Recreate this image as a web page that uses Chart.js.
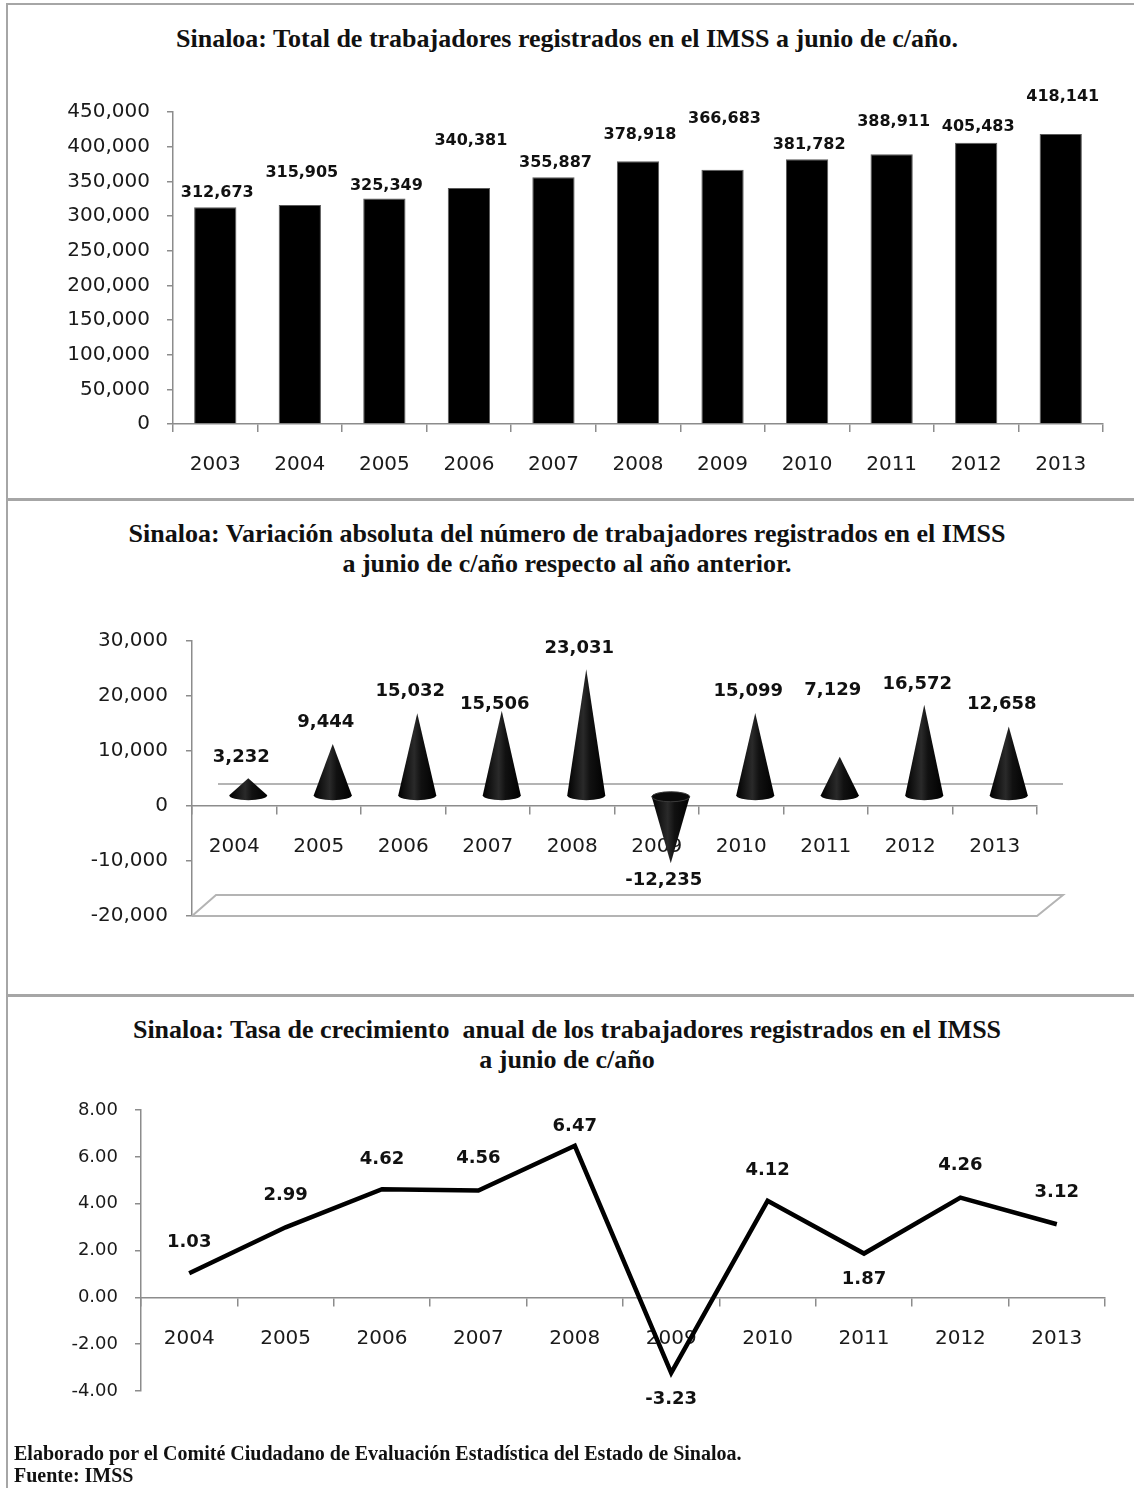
<!DOCTYPE html>
<html>
<head>
<meta charset="utf-8">
<script src="https://cdn.jsdelivr.net/npm/chart.js@4.4.1/dist/chart.umd.min.js"></script>
<style>
  html, body { margin: 0; padding: 0; background: #fff; }
  #page { position: relative; width: 1134px; height: 1488px; overflow: hidden; background: #fff; }
  canvas { position: absolute; left: 0; }
  .frame { position: absolute; background: #a6a6a6; z-index: 5; }
  .title {
    position: absolute; left: 0; width: 1134px; text-align: center;
    font-family: "Liberation Serif", "DejaVu Serif", serif; font-weight: bold;
    font-size: 26px; line-height: 30px; color: #111; white-space: pre;
  }
  .foot {
    position: absolute; left: 14px; font-family: "Liberation Serif", serif;
    font-weight: bold; font-size: 20px; line-height: 22px; color: #111;
  }
</style>
</head>
<body>
<div id="page">
  <div class="frame" style="left:7px;top:3px;width:1127px;height:2px"></div>
  <div class="frame" style="left:6px;top:3px;width:2px;height:1485px"></div>
  <div class="frame" style="left:7px;top:498px;width:1127px;height:3px"></div>
  <div class="frame" style="left:7px;top:994px;width:1127px;height:3px"></div>

  <div class="title" style="top:24px">Sinaloa: Total de trabajadores registrados en el IMSS a junio de c/año.</div>
  <div class="title" style="top:519px">Sinaloa: Variación absoluta del número de trabajadores registrados en el IMSS
a junio de c/año respecto al año anterior.</div>
  <div class="title" style="top:1015px">Sinaloa: Tasa de crecimiento  anual de los trabajadores registrados en el IMSS
a junio de c/año</div>

  <canvas id="total-chart" width="1134" height="500" style="top:0"></canvas>
  <canvas id="variacion-chart" width="1134" height="496" style="top:500px"></canvas>
  <canvas id="tasa-chart" width="1134" height="492" style="top:996px"></canvas>

  <div class="foot" style="top:1442px">Elaborado por el Comité Ciudadano de Evaluación Estadística del Estado de Sinaloa.<br>Fuente: IMSS</div>
</div>

<script>
// Data
var years_total = ["2003", "2004", "2005", "2006", "2007", "2008", "2009", "2010", "2011", "2012", "2013"];
var total_trabajadores = [312673, 315905, 325349, 340381, 355887, 378918, 366683, 381782, 388911, 405483, 418141];

var years_var = ["2004", "2005", "2006", "2007", "2008", "2009", "2010", "2011", "2012", "2013"];
var variacion_absoluta = [3232, 9444, 15032, 15506, 23031, -12235, 15099, 7129, 16572, 12658];
var tasa_crecimiento = [1.03, 2.99, 4.62, 4.56, 6.47, -3.23, 4.12, 1.87, 4.26, 3.12];

// label lifts (px above the mark, negative = below), as in the Excel original
var lift_total = [14, 32, 13, 47, 14, 26, 51, 14, 33, 16, 37];
var lift_var = [21, 22, 22, 6, 21, -17, 22, 66, 21, 22];
var lift_tasa = [31, 32, 30, 32, 19, -26, 31, -26, 32, 32];

Chart.defaults.font.family = "'DejaVu Sans', sans-serif";
Chart.defaults.color = "#1a1a1a";
Chart.defaults.animation = false;

var AXIS = "#8c8c8c";
var CONE_DX = 14, CONE_DY = -10, CONE_R = 19;

function fmtThousands(v) {
  return Number(v).toLocaleString("en-US");
}

// draws the value labels above / below each mark
var valueLabels = {
  id: "valueLabels",
  afterDatasetsDraw: function (chart, args, opts) {
    var ctx = chart.ctx;
    var meta = chart.getDatasetMeta(0);
    var data = chart.data.datasets[0].data;
    ctx.save();
    ctx.font = "bold " + opts.size + "px 'DejaVu Sans', sans-serif";
    ctx.fillStyle = "#111";
    ctx.textAlign = "center";
    ctx.textBaseline = "middle";
    for (var i = 0; i < meta.data.length; i++) {
      var el = meta.data[i];
      var y = el.y + (opts.dy || 0) - opts.lift[i];
      ctx.fillText(opts.format(data[i]), el.x + (opts.dx || 0), y);
    }
    ctx.restore();
  },
};

// 3D floor / back wall + cones for the variation chart
var cones = {
  id: "cones",
  beforeDatasetsDraw: function (chart) {
    var ctx = chart.ctx;
    var ys = chart.scales.y;
    var a = chart.chartArea;
    var yFloor = ys.getPixelForValue(ys.min);
    var yZero = ys.getPixelForValue(0);
    ctx.save();
    ctx.strokeStyle = "#b4b4b4";
    ctx.lineWidth = 2;
    ctx.beginPath();
    ctx.moveTo(a.left, yFloor);
    ctx.lineTo(a.left + 24, yFloor - 21);
    ctx.lineTo(a.right + 26, yFloor - 21);
    ctx.lineTo(a.right, yFloor);
    ctx.lineTo(a.left, yFloor);
    ctx.stroke();
    ctx.beginPath();
    ctx.moveTo(a.left + 26, yZero - 22);
    ctx.lineTo(a.right + 26, yZero - 22);
    ctx.stroke();
    ctx.restore();
  },
  afterDatasetsDraw: function (chart) {
    var ctx = chart.ctx;
    var meta = chart.getDatasetMeta(0);
    ctx.save();
    meta.data.forEach(function (bar) {
      var cx = bar.x + CONE_DX;
      var baseY = bar.base + CONE_DY;
      var apexY = bar.y + CONE_DY;
      var r = CONE_R, ry = 5;
      var g = ctx.createLinearGradient(cx - r, 0, cx + r, 0);
      g.addColorStop(0, "#000");
      g.addColorStop(0.42, "#2a2a2a");
      g.addColorStop(0.6, "#111");
      g.addColorStop(1, "#000");
      ctx.fillStyle = g;
      ctx.beginPath();
      ctx.moveTo(cx - r, baseY);
      ctx.lineTo(cx, apexY);
      ctx.lineTo(cx + r, baseY);
      if (apexY < baseY) {
        ctx.ellipse(cx, baseY, r, ry, 0, 0, Math.PI, false);
        ctx.fill();
      } else {
        ctx.closePath();
        ctx.fill();
        ctx.beginPath();
        ctx.ellipse(cx, baseY, r, ry, 0, 0, Math.PI * 2);
        ctx.fillStyle = "#0a0a0a";
        ctx.fill();
        ctx.strokeStyle = "#3a3a3a";
        ctx.lineWidth = 1;
        ctx.stroke();
      }
    });
    ctx.restore();
  },
};

function yAxis(min, max, step, width, fmt, size, pad) {
  return {
    min: min,
    max: max,
    afterFit: function (s) { s.width = width; },
    ticks: { stepSize: step, callback: fmt, font: { size: size }, padding: pad, color: "#1a1a1a" },
    grid: { drawOnChartArea: false, tickLength: 6, color: AXIS, lineWidth: 1.5 },
    border: { color: AXIS, width: 1.5 },
  };
}

function xAxis(extra) {
  var o = {
    offset: true,
    ticks: { font: { size: 20 }, padding: 21, maxRotation: 0, autoSkip: false, color: "#1a1a1a" },
    grid: { offset: true, drawOnChartArea: false, tickLength: 8, color: AXIS, lineWidth: 1.5 },
    border: { color: AXIS, width: 1.5 },
  };
  for (var k in extra) o[k] = extra[k];
  return o;
}

// Total de trabajadores
var ctx = document.getElementById("total-chart").getContext("2d");
var total_chart = new Chart(ctx, {
  type: "bar",
  data: {
    labels: years_total,
    datasets: [
      {
        label: "Trabajadores",
        data: total_trabajadores,
        backgroundColor: function (c) {
          var el = c.element;
          if (!el || el.x === undefined) return "#000";
          var g = c.chart.ctx.createLinearGradient(el.x - 21, 0, el.x + 21, 0);
          g.addColorStop(0, "#000");
          g.addColorStop(0.5, "#141414");
          g.addColorStop(1, "#000");
          return g;
        },
        borderColor: "#5a5a5a",
        borderWidth: 1,
        barPercentage: 0.5,
        categoryPercentage: 1,
      },
    ],
  },
  options: {
    responsive: false,
    layout: { padding: { top: 112, right: 31, left: 0, bottom: 0 } },
    plugins: {
      legend: { display: false },
      tooltip: { enabled: false },
      valueLabels: { lift: lift_total, size: 16, dx: 2, format: fmtThousands },
    },
    scales: {
      x: xAxis({ afterFit: function (s) { s.height = 76; } }),
      y: yAxis(0, 450000, 50000, 173, fmtThousands, 20, 17),
    },
  },
  plugins: [valueLabels],
});

// Variación absoluta
var ctx2 = document.getElementById("variacion-chart").getContext("2d");
var variacion_chart = new Chart(ctx2, {
  type: "bar",
  data: {
    labels: years_var,
    datasets: [
      {
        label: "Variación",
        data: variacion_absoluta,
        backgroundColor: "rgba(0,0,0,0)",
        borderWidth: 0,
        barPercentage: 0.45,
        categoryPercentage: 1,
      },
    ],
  },
  options: {
    responsive: false,
    layout: { padding: { top: 141, right: 97, left: 0, bottom: 80 } },
    plugins: {
      legend: { display: false },
      tooltip: { enabled: false },
      valueLabels: { lift: lift_var, size: 18, dx: 7, dy: CONE_DY, format: fmtThousands },
    },
    scales: {
      x: xAxis({ position: { y: 0 } }),
      y: yAxis(-20000, 30000, 10000, 192, fmtThousands, 20, 18),
    },
  },
  plugins: [cones, valueLabels],
});

// Tasa de crecimiento
var ctx3 = document.getElementById("tasa-chart").getContext("2d");
var tasa_chart = new Chart(ctx3, {
  type: "line",
  data: {
    labels: years_var,
    datasets: [
      {
        label: "Tasa",
        data: tasa_crecimiento,
        borderColor: "#000",
        borderWidth: 4.5,
        pointRadius: 0,
        tension: 0,
        fill: false,
        borderJoinStyle: "miter",
      },
    ],
  },
  options: {
    responsive: false,
    layout: { padding: { top: 114, right: 29, left: 0, bottom: 97 } },
    plugins: {
      legend: { display: false },
      tooltip: { enabled: false },
      valueLabels: { lift: lift_tasa, size: 18, dx: 0, format: function (v) { return v.toFixed(2); } },
    },
    scales: {
      x: xAxis({ position: { y: 0 } }),
      y: yAxis(-4, 8, 2, 141, function (v) { return v.toFixed(2); }, 18, 17),
    },
  },
  plugins: [valueLabels],
});
</script>
</body>
</html>
